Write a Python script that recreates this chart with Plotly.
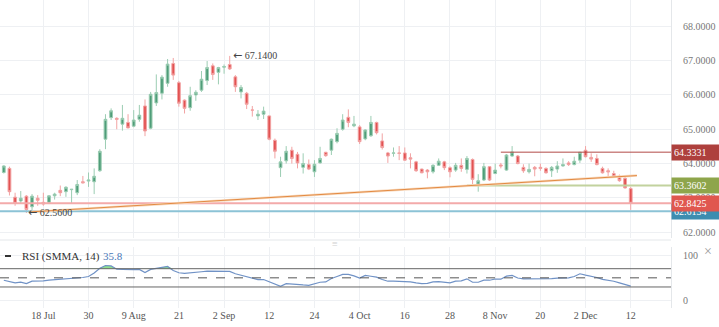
import pandas as pd
import plotly.graph_objects as go

# ---------------- data ----------------
dates = [d.strftime("%Y-%m-%d") for d in pd.bdate_range("2019-07-09", "2019-12-12") if d.strftime("%Y-%m-%d") != "2019-11-04"]

opens = [63.74, 63.86, 63.02, 62.91, 63.05, 62.74, 62.99, 62.87, 62.87, 63.06,
         63.22, 63.18, 63.24, 63.15, 63.47, 63.49, 63.47, 63.79, 64.71, 65.34,
         65.32, 65.15, 65.20, 65.09, 65.29, 65.68, 65.03, 65.77, 66.05, 66.34,
         66.92, 66.36, 65.85, 65.63, 66.00, 66.14, 66.42, 66.85, 66.66, 66.81,
         66.89, 66.53, 66.09, 66.05, 65.56, 65.39, 65.44, 65.39, 64.68, 63.88,
         64.08, 64.39, 64.27, 63.89, 63.97, 63.76, 64.02, 64.33, 64.39, 64.64,
         65.00, 65.35, 65.10, 65.07, 64.72, 64.81, 65.20, 64.66, 64.31, 64.30,
         64.31, 64.31, 64.17, 64.05, 63.84, 63.81, 63.76, 63.95, 64.05, 63.88,
         63.81, 63.95, 63.83, 64.12, 63.40, 63.52, 63.91, 63.71, 63.96, 63.81,
         64.22, 64.22, 63.89, 63.76, 63.89, 63.89, 63.86, 63.79, 63.84, 63.93,
         64.02, 63.97, 64.10, 64.39, 64.18, 64.15, 63.86, 63.79, 63.71, 63.63,
         63.57, 63.27]
highs = [63.95, 63.91, 63.15, 63.20, 63.08, 63.11, 63.08, 63.15, 63.08, 63.15,
         63.36, 63.34, 63.26, 63.52, 63.64, 63.74, 63.86, 64.42, 65.44, 65.61,
         65.35, 65.71, 65.44, 65.56, 65.71, 65.87, 66.09, 66.60, 66.58, 67.05,
         67.08, 66.41, 65.87, 66.24, 66.14, 66.70, 66.99, 66.92, 66.82, 66.89,
         67.14, 66.58, 66.29, 66.09, 65.68, 65.56, 65.66, 65.40, 64.73, 64.20,
         64.51, 64.49, 64.34, 64.30, 64.12, 64.10, 64.49, 64.34, 64.73, 65.03,
         65.44, 65.58, 65.39, 65.12, 65.00, 65.39, 65.22, 64.88, 64.34, 64.47,
         64.51, 64.47, 64.30, 64.08, 63.85, 63.84, 63.98, 64.15, 64.08, 63.92,
         64.02, 64.15, 64.22, 64.15, 63.69, 64.02, 63.93, 64.00, 64.02, 64.28,
         64.51, 64.25, 63.98, 64.00, 63.93, 64.00, 63.89, 63.93, 64.07, 64.15,
         64.07, 64.20, 64.34, 64.51, 64.30, 64.27, 63.91, 63.86, 63.79, 63.68,
         63.61, 63.32]
lows = [63.71, 63.07, 62.77, 62.84, 62.56, 62.64, 62.77, 62.77, 62.82, 62.95,
        63.05, 63.03, 62.84, 63.08, 63.42, 63.32, 63.11, 63.76, 64.42, 65.27,
        65.00, 64.96, 65.03, 65.06, 65.22, 64.80, 65.00, 65.68, 65.87, 66.24,
        66.44, 65.66, 65.46, 65.54, 65.83, 66.09, 66.29, 66.44, 66.31, 66.62,
        66.73, 66.09, 65.90, 65.59, 65.37, 65.27, 65.30, 64.68, 64.15, 63.61,
        64.00, 64.00, 63.86, 63.71, 63.81, 63.61, 64.00, 64.20, 64.25, 64.59,
        64.96, 65.06, 65.06, 64.57, 64.68, 64.78, 64.85, 64.41, 64.02, 64.20,
        64.10, 64.08, 63.86, 63.76, 63.72, 63.57, 63.71, 63.93, 63.81, 63.60,
        63.76, 63.76, 63.71, 63.40, 63.18, 63.49, 63.49, 63.69, 63.86, 63.79,
        64.20, 63.98, 63.73, 63.71, 63.63, 63.79, 63.71, 63.61, 63.73, 63.91,
        63.93, 63.95, 64.02, 64.18, 64.05, 63.95, 63.71, 63.61, 63.60, 63.47,
        63.27, 62.65]
closes = [63.93, 63.18, 62.84, 62.99, 62.66, 63.05, 62.93, 62.82, 63.06, 63.11,
          63.15, 63.31, 63.25, 63.39, 63.44, 63.52, 63.63, 64.36, 65.29, 65.54,
          65.29, 65.32, 65.04, 65.27, 65.41, 64.95, 66.02, 66.07, 66.52, 66.90,
          66.58, 65.76, 65.61, 65.98, 66.08, 66.46, 66.80, 66.60, 66.80, 66.83,
          66.76, 66.24, 66.22, 65.73, 65.56, 65.44, 65.53, 64.71, 64.36, 64.05,
          64.36, 64.15, 64.02, 64.00, 63.84, 63.98, 64.15, 64.23, 64.71, 64.88,
          65.27, 65.20, 65.15, 64.64, 64.98, 65.20, 64.90, 64.47, 64.22, 64.31,
          64.30, 64.10, 64.13, 63.79, 63.73, 63.76, 63.95, 64.07, 63.88, 63.76,
          63.95, 63.86, 64.15, 63.54, 63.50, 63.91, 63.52, 63.81, 63.93, 64.25,
          64.34, 64.00, 63.79, 63.83, 63.84, 63.86, 63.73, 63.89, 63.93, 63.97,
          63.97, 64.07, 64.33, 64.20, 64.13, 63.97, 63.73, 63.76, 63.61, 63.50,
          63.29, 62.8425]
rsi = [44.8, 41.1, 38.9, 40.4, 37.4, 42.6, 42.6, 43.3, 44.8, 45.6,
       46.3, 47.8, 48.5, 49.3, 50.7, 53.0, 60.5, 71.0, 77.0, 76.0,
       69.0, 68.5, 67.5, 68.0, 68.5, 61.5, 68.5, 70.5, 73.0, 75.0,
       66.0, 61.1, 59.6, 60.4, 61.9, 63.3, 64.8, 64.8, 64.8, 64.8,
       64.1, 58.9, 55.9, 52.2, 48.5, 46.3, 46.3, 41.9, 36.7, 31.5,
       37.4, 35.9, 35.2, 34.4, 33.7, 37.4, 40.4, 41.1, 48.5, 53.0,
       57.4, 57.4, 54.4, 49.5, 55.2, 53.5, 51.5, 46.3, 42.6, 42.6,
       42.6, 41.5, 41.1, 38.9, 37.4, 37.8, 41.1, 41.9, 40.0, 38.9,
       42.6, 43.3, 47.8, 40.4, 40.4, 44.8, 44.8, 47.4, 47.0, 53.7,
       55.2, 49.6, 47.8, 47.8, 47.8, 47.0, 47.0, 48.1, 49.3, 49.3,
       50.0, 53.0, 58.9, 55.9, 54.1, 50.7, 46.7, 44.8, 42.6, 38.9,
       35.2, 32.0]
rsi_label = "RSI (SMMA, 14)"
rsi_last = "35.8"

tick_dates = ["2019-07-18", "2019-07-30", "2019-08-09", "2019-08-21", "2019-09-02",
              "2019-09-12", "2019-09-24", "2019-10-04", "2019-10-16", "2019-10-28",
              "2019-11-08", "2019-11-20", "2019-12-02", "2019-12-12"]
tick_text = ["18 Jul", "30", "9 Aug", "21", "2 Sep", "12", "24", "4 Oct", "16", "28",
             "8 Nov", "20", "2 Dec", "12"]

resistance = 64.3331
support = 63.3602
last_price = 62.8425
other_price = 62.6134
max_label = "67.1400"
min_label = "62.5600"
trend_p0 = 62.59
trend_p1 = 63.65

# ---------------- figure ----------------
FONT = "Liberation Serif"
GRID = "#eef0f3"
n = len(dates)
W, H = 719, 327
ML, MR, MT, MB = 0, 48, 0, 19
PW, PH = W - ML - MR, H - MT - MB

def py(px):  # pixel y -> paper y
    return (PH - (px - MT)) / PH

def pxx(px):  # pixel x -> paper x
    return (px - ML) / PW

fig = go.Figure()
fig.add_trace(go.Candlestick(
    x=dates, open=opens, high=highs, low=lows, close=closes,
    increasing=dict(line=dict(color="#9ccdb3", width=1), fillcolor="#4f9d79"),
    decreasing=dict(line=dict(color="#f2a3a3", width=1), fillcolor="#e25252"),
    whiskerwidth=0, showlegend=False, hoverinfo="skip", xaxis="x", yaxis="y"))

# RSI fill above 70
fig.add_trace(go.Scatter(x=dates, y=[70] * n, mode="lines", line=dict(width=0),
                         showlegend=False, hoverinfo="skip", xaxis="x2", yaxis="y2"))
fig.add_trace(go.Scatter(x=dates, y=[max(v, 70) for v in rsi], mode="lines",
                         line=dict(width=0), fill="tonexty", fillcolor="#8fe08f",
                         showlegend=False, hoverinfo="skip", xaxis="x2", yaxis="y2"))
fig.add_trace(go.Scatter(x=dates, y=rsi, mode="lines", line=dict(color="#7092c6", width=1.2),
                         showlegend=False, hoverinfo="skip", xaxis="x2", yaxis="y2"))

xr = [-0.673, 118.13]
common_x = dict(type="category", range=xr, showgrid=True, gridcolor=GRID, gridwidth=1,
                tickvals=tick_dates, ticktext=tick_text, zeroline=False, showline=False,
                fixedrange=True)
main_bottom = py(238)
rsi_top = py(247)
fig.update_layout(
    width=W, height=H, margin=dict(l=ML, r=MR, t=MT, b=MB),
    paper_bgcolor="white", plot_bgcolor="white",
    font=dict(family=FONT, size=10, color="#666"),
    xaxis=dict(**common_x, showticklabels=False, anchor="y", rangeslider=dict(visible=False)),
    xaxis2=dict(**common_x, anchor="y2", matches="x", showticklabels=True,
                tickfont=dict(family=FONT, size=10, color="#555"), ticks=""),
    yaxis=dict(domain=[main_bottom, 1], side="right", range=[61.83, 68.77], dtick=1, tick0=62,
               tickformat=".4f", showgrid=True, gridcolor=GRID, zeroline=False,
               showline=True, linecolor="#e4e7ea", ticks="", ticklabelstandoff=9,
               tickfont=dict(family=FONT, size=10, color="#777")),
    yaxis2=dict(domain=[0, rsi_top], side="right", range=[-16, 117.5], tickvals=[0, 100],
                showgrid=True, gridcolor=GRID, zeroline=False, showline=True,
                linecolor="#e4e7ea", ticks="", ticklabelstandoff=9,
                tickfont=dict(family=FONT, size=10, color="#777")),
)

shapes = []
# RSI levels
for lvl, dash in [(70, "solid"), (30, "solid"), (50, "dash")]:
    shapes.append(dict(type="line", xref="x2 domain", x0=0, x1=1, yref="y2", y0=lvl, y1=lvl,
                       line=dict(color="#666" if dash == "solid" else "#555", width=1, dash=dash)))
# panel separator
shapes.append(dict(type="line", xref="paper", x0=0, x1=1, yref="paper", y0=py(240), y1=py(240),
                   line=dict(color="#e4e7ea", width=1)))
# price lines
shapes.append(dict(type="line", xref="paper", x0=0, x1=1, yref="y", y0=other_price, y1=other_price,
                   line=dict(color="#8cc3d6", width=2)))
shapes.append(dict(type="line", xref="paper", x0=0, x1=1, yref="y", y0=last_price, y1=last_price,
                   line=dict(color="#f3aaaa", width=2)))
shapes.append(dict(type="line", xref="x", x0=82, x1=xr[1], yref="y", y0=support, y1=support,
                   line=dict(color="#c2d29e", width=2)))
shapes.append(dict(type="line", xref="x", x0=88, x1=xr[1], yref="y", y0=resistance, y1=resistance,
                   line=dict(color="#b24a47", width=1)))
# trend line
shapes.append(dict(type="line", xref="x", x0=4.6, x1=112.1, yref="y", y0=trend_p0, y1=trend_p1,
                   line=dict(color="#f8dcc2", width=2.5)))
shapes.append(dict(type="line", xref="x", x0=4.6, x1=112.1, yref="y", y0=trend_p0, y1=trend_p1,
                   line=dict(color="#e38a42", width=1)))
# legend dash
shapes.append(dict(type="line", xref="paper", x0=pxx(5), x1=pxx(11), yref="paper", y0=py(256), y1=py(256),
                   line=dict(color="#333", width=2)))
fig.update_layout(shapes=shapes)

ARROW = "<span style='font-family:DejaVu Sans;font-size:11px'>←</span> "
ann = []
ann.append(dict(xref="x", x=40, yref="y", y=max(highs), xanchor="left", yanchor="middle",
                xshift=1, text=ARROW + max_label, showarrow=False,
                font=dict(family=FONT, size=10, color="#444")))
ann.append(dict(xref="x", x=4, yref="y", y=min(lows), xanchor="left", yanchor="middle",
                xshift=0, text=ARROW + min_label, showarrow=False,
                font=dict(family=FONT, size=10, color="#444")))
for val, col in [(other_price, "#3d8db0"), (last_price, "#e0574f"),
                 (support, "#8ea54b"), (resistance, "#ae403d")]:
    ann.append(dict(xref="paper", x=1, yref="y", y=val, xanchor="left", yanchor="middle",
                    xshift=0, text=f"{val:.4f}", showarrow=False, bgcolor=col, borderpad=2,
                    width=44, align="left",
                    font=dict(family=FONT, size=10, color="white")))
ann.append(dict(xref="paper", x=pxx(20), yref="paper", y=py(256), xanchor="left", yanchor="middle",
                text=rsi_label, showarrow=False, font=dict(family=FONT, size=11, color="#333")))
ann.append(dict(xref="paper", x=pxx(101), yref="paper", y=py(256), xanchor="left", yanchor="middle",
                text=rsi_last, showarrow=False, font=dict(family=FONT, size=11, color="#4a78b8")))
ann.append(dict(xref="paper", x=pxx(335), yref="paper", y=py(243), xanchor="center", yanchor="middle",
                text="≡", showarrow=False, font=dict(family=FONT, size=10, color="#d0d0d0")))
ann.append(dict(xref="paper", x=pxx(708), yref="paper", y=py(252), xanchor="center", yanchor="middle",
                text="×", showarrow=False, font=dict(family=FONT, size=14, color="#999")))
fig.update_layout(annotations=ann)

fig.write_html("out.html")
